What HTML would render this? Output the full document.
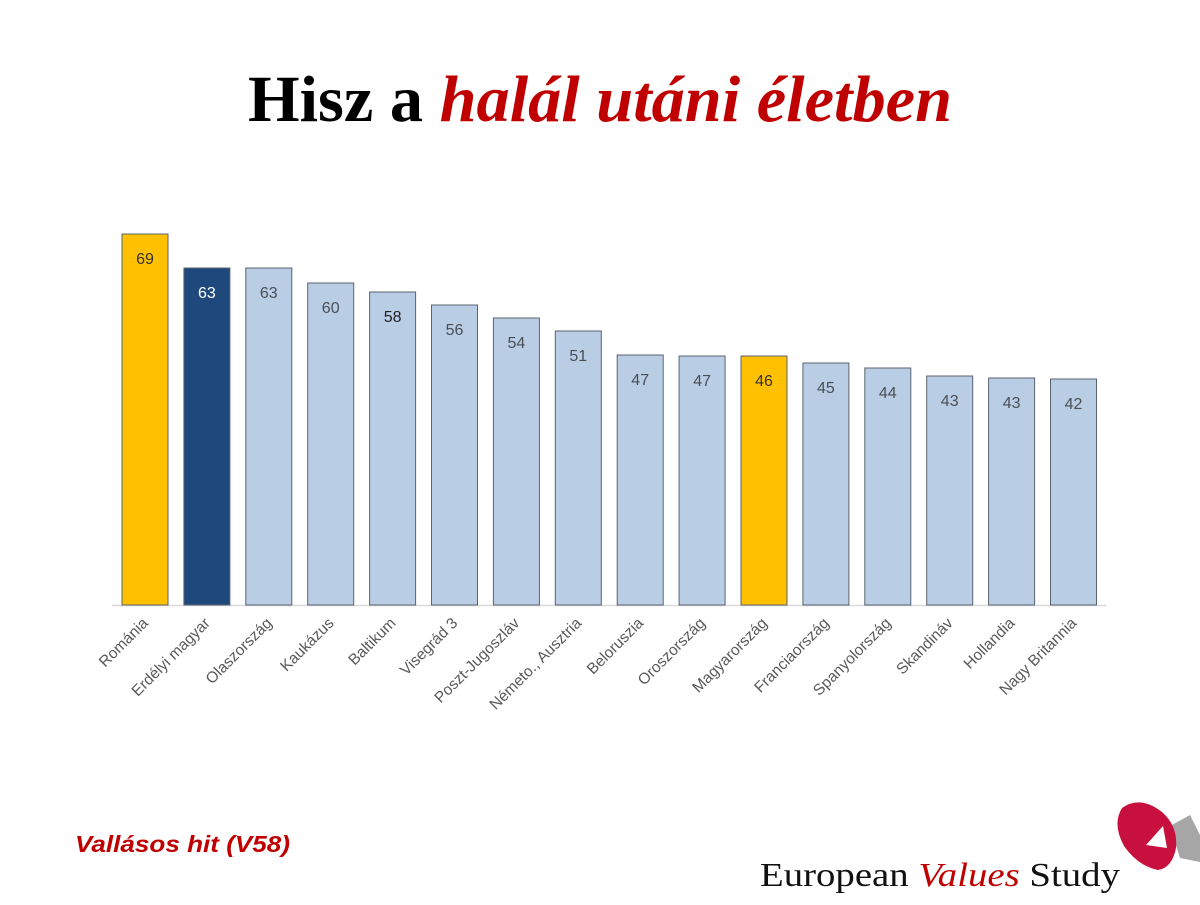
<!DOCTYPE html>
<html><head><meta charset="utf-8"><style>body{margin:0;background:#fff}</style></head><body>
<svg width="1200" height="900" xmlns="http://www.w3.org/2000/svg">
<rect width="1200" height="900" fill="#fff"/>
<text x="248" y="121" textLength="704" lengthAdjust="spacingAndGlyphs" font-family="Liberation Serif, serif" font-weight="bold" font-size="66" fill="#000">Hisz a <tspan fill="#c00000" font-style="italic">halál utáni életben</tspan></text>
<line x1="112" y1="605.5" x2="1106" y2="605.5" stroke="#d9d9d9" stroke-width="1.5"/>
<g font-family="Liberation Sans, DejaVu Sans, sans-serif" font-size="16" text-anchor="middle">
<g id="bars"></g>
</g>
<text x="75" y="852" textLength="215" lengthAdjust="spacingAndGlyphs" font-family="Liberation Sans, sans-serif" font-style="italic" font-weight="bold" font-size="23" fill="#c00000">Vallásos hit (V58)</text>
<text x="760" y="886" textLength="360" lengthAdjust="spacingAndGlyphs" font-family="Liberation Serif, serif" font-size="34" fill="#111">European <tspan fill="#c00000" font-style="italic">Values</tspan> Study</text>
<path d="M1170 826 L1190 815 L1200 835 L1200 862 L1180 858 Z" fill="#a6a6a6"/>
<path d="M1122 808 Q1140 795 1162 812 Q1178 826 1176 848 Q1172 868 1158 870 Q1138 866 1124 846 Q1112 824 1122 808 Z" fill="#c8103e"/>
<path d="M1146 845 L1163 826 L1167 848 Z" fill="#fff"/>
</svg>
<script>
var d=[["Románia",69,234,"#ffc000","#333"],["Erdélyi magyar",63,268,"#1f497d","#fff"],["Olaszország",63,268],["Kaukázus",60,283],["Baltikum",58,292,null,"#222"],["Visegrád 3",56,305],["Poszt-Jugoszláv",54,318],["Németo., Ausztria",51,331],["Beloruszia",47,355],["Oroszország",47,356],["Magyarország",46,356,"#ffc000","#333"],["Franciaország",45,363],["Spanyolország",44,368],["Skandináv",43,376],["Hollandia",43,378],["Nagy Britannia",42,379]];
var g=document.getElementById("bars"),s="";
d.forEach(function(r,i){var x=122+i*61.9,c=x+23;
s+='<rect x="'+x+'" y="'+r[2]+'" width="46" height="'+(605-r[2])+'" fill="'+(r[3]||"#b9cde5")+'" stroke="#5a6470" stroke-width="1"/>';
s+='<text x="'+c+'" y="'+(r[2]+30)+'" fill="'+(r[4]||"#4a4f55")+'">'+r[1]+'</text>';
s+='<text transform="translate('+(c+4)+',624) rotate(-45)" text-anchor="end" font-size="15.5" fill="#595959">'+r[0]+'</text>';});
g.innerHTML=s;
</script>
</body></html>
